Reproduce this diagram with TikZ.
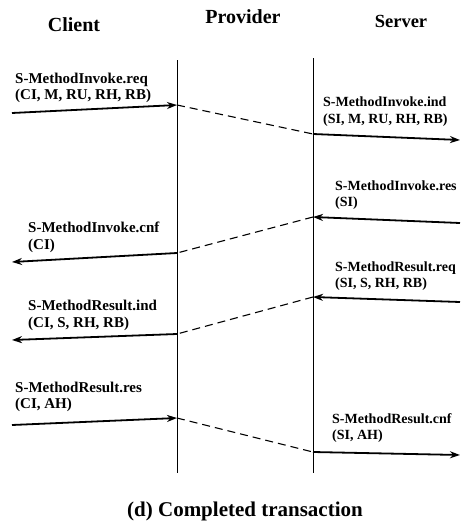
\documentclass[tikz,border=0pt]{standalone}
\usepackage{fontspec}
\setmainfont{Liberation Serif}
\usetikzlibrary{arrows.meta}
\begin{document}
\begin{tikzpicture}[x=1pt,y=-1pt,
  head/.style={inner sep=0pt,anchor=base,font=\fontsize{20}{24}\selectfont\bfseries},
  lbl/.style={inner sep=0pt,anchor=base west,font=\fontsize{15}{17}\selectfont\bfseries},
  slbl/.style={inner sep=0pt,anchor=base west,font=\fontsize{14}{16}\selectfont\bfseries},
  life/.style={line width=1pt},
  msg/.style={line width=1.8pt,-{Stealth[length=10pt,width=7pt]}},
  relay/.style={line width=1.1pt,dash pattern=on 8pt off 5pt}]
\useasboundingbox (0,0) rectangle (462,523);
% headers
\node[head] (hc) at (74,31) {Client};
\node[head] (hp) at (243,23) {Provider};
\node[head,font=\fontsize{18.5}{22}\selectfont\bfseries] (hs) at (401,27) {Server};
% lifelines
\coordinate (pt) at (177,60); \coordinate (pb) at (177,473);
\coordinate (st) at (313,58); \coordinate (sb) at (313,473);
\draw[life] (pt) -- (pb);
\draw[life] (st) -- (sb);
% endpoints
\coordinate (a1) at (12,113);  \coordinate (p1) at (177,105);
\coordinate (s1) at (313,134); \coordinate (b1) at (460,140);
\coordinate (b2) at (460,223); \coordinate (s2) at (313,217);
\coordinate (p2) at (177,253); \coordinate (a2) at (12,262);
\coordinate (b3) at (460,302); \coordinate (s3) at (313,297);
\coordinate (p3) at (177,334); \coordinate (a3) at (12,340);
\coordinate (a4) at (12,425);  \coordinate (p4) at (177,418);
\coordinate (s4) at (313,452); \coordinate (b4) at (460,455);
% messages
\draw[msg] (a1) -- (p1);
\draw[relay] (p1) -- (s1);
\draw[msg] (s1) -- (b1);
\draw[msg] (b2) -- (s2);
\draw[relay] (s2) -- (p2);
\draw[msg] (p2) -- (a2);
\draw[msg] (b3) -- (s3);
\draw[relay] (s3) -- (p3);
\draw[msg] (p3) -- (a3);
\draw[msg] (a4) -- (p4);
\draw[relay] (p4) -- (s4);
\draw[msg] (s4) -- (b4);
% labels
\node[lbl] (l1a) at (15,83) {S-MethodInvoke.req};
\node[lbl] (l1b) at (15,99) {(CI, M, RU, RH, RB)};
\node[slbl] (l2a) at (323,106) {S-MethodInvoke.ind};
\node[slbl] (l2b) at (323,123) {(SI, M, RU, RH, RB)};
\node[slbl] (l3a) at (335,190) {S-MethodInvoke.res};
\node[slbl] (l3b) at (335,206) {(SI)};
\node[lbl] (l4a) at (28,232) {S-MethodInvoke.cnf};
\node[lbl] (l4b) at (28,249) {(CI)};
\node[slbl] (l5a) at (335,271) {S-MethodResult.req};
\node[slbl] (l5b) at (335,287) {(SI, S, RH, RB)};
\node[lbl] (l6a) at (28,310) {S-MethodResult.ind};
\node[lbl] (l6b) at (28,327) {(CI, S, RH, RB)};
\node[lbl] (l7a) at (15,392) {S-MethodResult.res};
\node[lbl] (l7b) at (15,408) {(CI, AH)};
\node[slbl] (l8a) at (332,423) {S-MethodResult.cnf};
\node[slbl] (l8b) at (332,439) {(SI, AH)};
% caption
\node[head,font=\fontsize{21}{25}\selectfont\bfseries] (cap) at (245,516) {(d) Completed transaction};
\end{tikzpicture}
\end{document}
